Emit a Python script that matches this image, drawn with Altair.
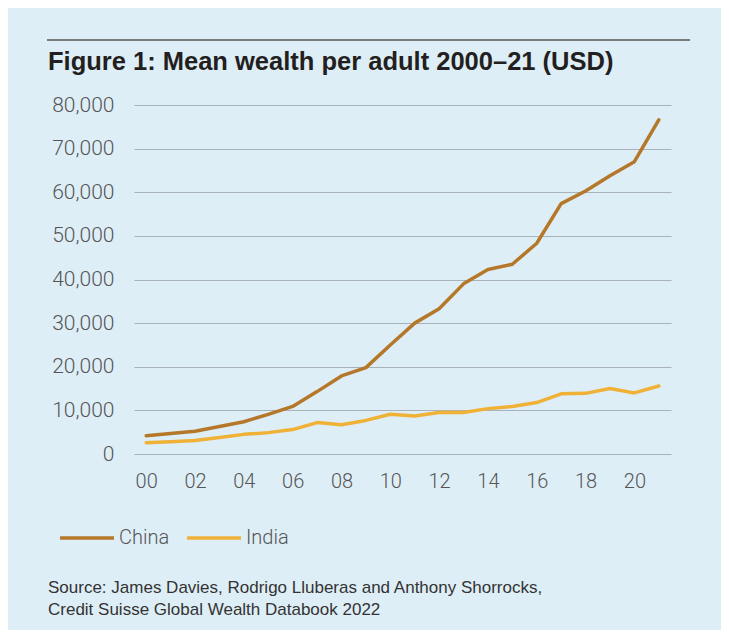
import altair as alt
import pandas as pd

years = list(range(2000, 2022))
china = [4200, 4700, 5200, 6300, 7400, 9100, 10900, 14300, 17900, 19800, 25000,
         30000, 33300, 39000, 42300, 43500, 48300, 57400, 60300, 63800, 67000, 76600]
india = [2600, 2800, 3100, 3800, 4500, 4900, 5600, 7200, 6700, 7700, 9100,
         8700, 9500, 9500, 10400, 10900, 11800, 13800, 13900, 15000, 14000, 15600]
countries = ["China", "India"]
colors = ["#b5782a", "#efb136"]
x_ticks = list(range(2000, 2021, 2))
y_ticks = list(range(0, 80001, 10000))
title_text = "Figure 1: Mean wealth per adult 2000\u201321 (USD)"
source_lines = ["Source: James Davies, Rodrigo Lluberas and Anthony Shorrocks,",
                "Credit Suisse Global Wealth Databook 2022"]

df = pd.DataFrame({
    "year": years * 2,
    "country": ["China"] * len(years) + ["India"] * len(years),
    "wealth": china + india,
})

LABEL_FONT = "Roboto"

lines = alt.Chart(df).mark_line(strokeWidth=3.5, strokeCap="round", strokeJoin="round").encode(
    x=alt.X("year:Q",
            scale=alt.Scale(domain=[1999.5, 2021.5], nice=False, zero=False),
            axis=alt.Axis(values=x_ticks, labelExpr="substring(toString(datum.value), 2)",
                          grid=False, domain=False, ticks=False, labelPadding=17,
                          labelFontSize=20, labelColor="#555555", labelFont=LABEL_FONT,
                          labelFontWeight=300, title=None)),
    y=alt.Y("wealth:Q",
            scale=alt.Scale(domain=[0, 80000], nice=False),
            axis=alt.Axis(values=y_ticks, format=",.0f", grid=True, gridColor="#a9b2b8",
                          gridWidth=1.2, domain=False, ticks=False, labelPadding=20,
                          labelFontSize=21, labelColor="#555555", labelFont=LABEL_FONT,
                          labelFontWeight=300, title=None)),
    color=alt.Color("country:N",
                    scale=alt.Scale(domain=countries, range=colors),
                    legend=alt.Legend(orient="none", legendX=-76, legendY=404,
                                      direction="horizontal", title=None,
                                      symbolType="stroke", symbolSize=2916,
                                      symbolStrokeWidth=3.5, labelFontSize=20,
                                      labelColor="#555555", labelFont=LABEL_FONT,
                                      labelFontWeight=300, labelOffset=3,
                                      columnPadding=10)),
)

rule = alt.Chart(pd.DataFrame({"a": [0]})).mark_rule(color="#555555", strokeWidth=1.5).encode(
    x=alt.value(-87), x2=alt.value(556), y=alt.value(-65)
)

title = alt.Chart(pd.DataFrame({"t": [title_text]})).mark_text(
    align="left", baseline="alphabetic", fontSize=25.5, fontWeight="bold",
    font="Liberation Sans", color="#231f20"
).encode(text="t:N", x=alt.value(-86), y=alt.value(-35))

src1 = alt.Chart(pd.DataFrame({"t": [source_lines[0]]})).mark_text(
    align="left", baseline="alphabetic", fontSize=17, font="Liberation Sans", color="#333333"
).encode(text="t:N", x=alt.value(-86), y=alt.value(488))

src2 = alt.Chart(pd.DataFrame({"t": [source_lines[1]]})).mark_text(
    align="left", baseline="alphabetic", fontSize=17, font="Liberation Sans", color="#333333"
).encode(text="t:N", x=alt.value(-86), y=alt.value(510))

chart = alt.layer(lines, rule, title, src1, src2).properties(
    width=537, height=349, background="#deeef7",
    padding={"left": 126, "top": 97, "right": 50, "bottom": 176},
    autosize=alt.AutoSizeParams(type="none"),
).configure_view(stroke=None)

chart.save("out.html", embed_options={"renderer": "svg", "actions": False})
